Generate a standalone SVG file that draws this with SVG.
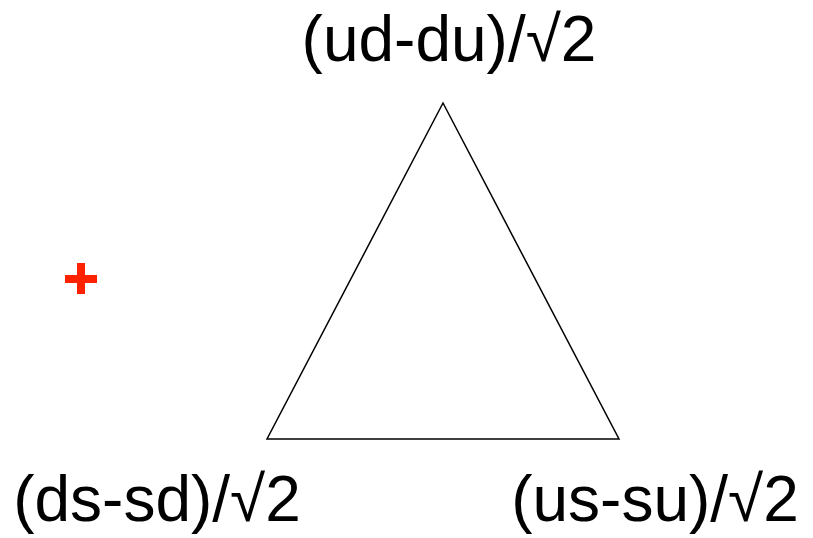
<svg xmlns="http://www.w3.org/2000/svg" width="813" height="538" viewBox="0 0 813 538">
<style>
.lbl{font-family:"Liberation Sans",Arial,sans-serif;font-size:64px;fill:#000;text-anchor:middle}
</style>
<rect width="813" height="538" fill="#fff"/>
<g id="marker-plus" fill="#ff2200">
<rect x="65" y="275" width="32" height="8"/>
<rect x="77" y="263" width="8" height="31"/>
</g>
<g id="triangle">
<polygon points="443,103 267,439 619,439" fill="none" stroke="#000" stroke-width="1.5"/>
</g>
<g id="label-top"><text class="lbl" x="449" y="61">(ud-du)/√2</text></g>
<g id="label-left"><text class="lbl" x="157" y="521">(ds-sd)/√2</text></g>
<g id="label-right"><text class="lbl" x="655" y="521">(us-su)/√2</text></g>
</svg>
